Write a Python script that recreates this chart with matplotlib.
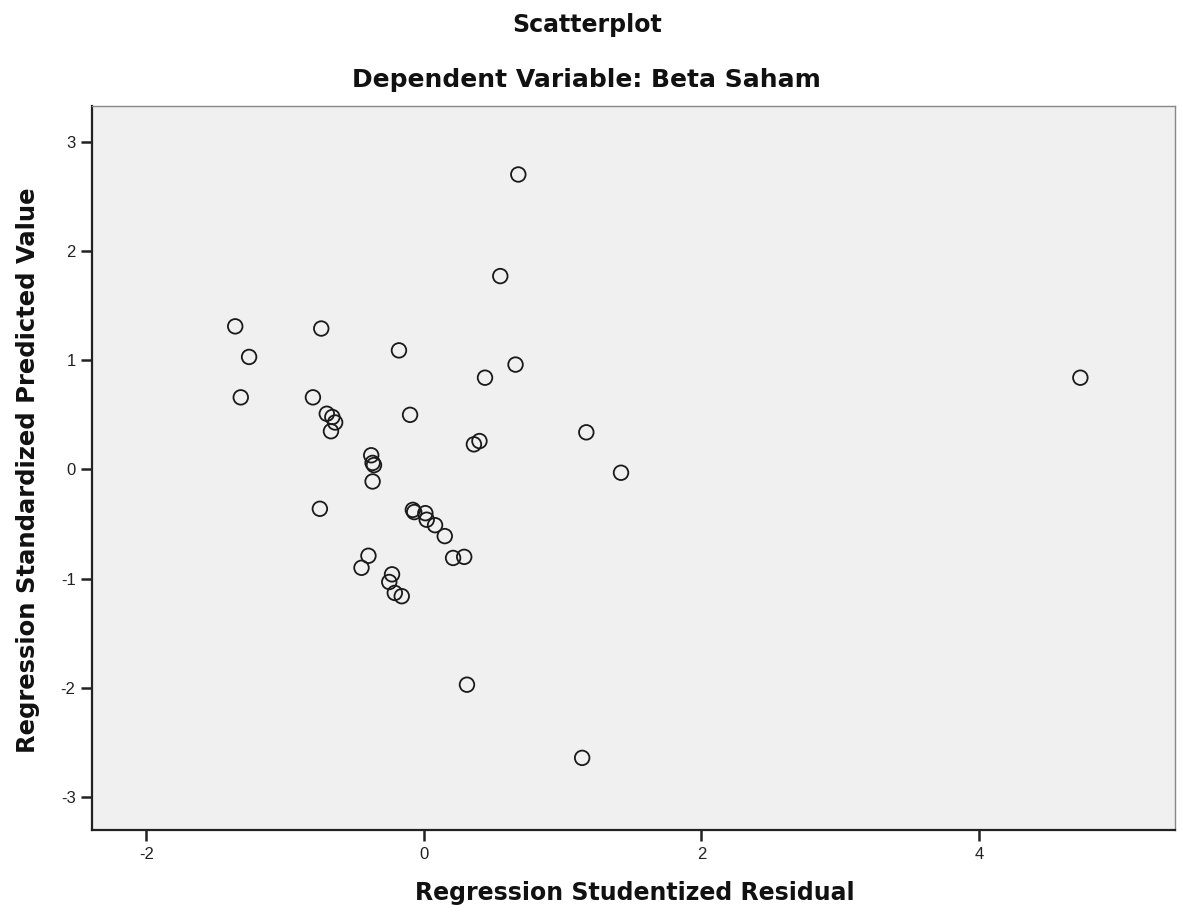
#!/usr/bin/env python3
# SPSS-style residual scatterplot: studentized residual vs standardized predicted value

import matplotlib
matplotlib.use("Agg")
import matplotlib.pyplot as plt

plt.rcParams["font.family"] = ["Liberation Sans", "DejaVu Sans"]

# Regression Studentized Residual (x)
resid = [0.68, 0.55, -1.36, -0.74, -1.26, -0.18, 0.66, 0.44, 4.73, -1.32,
         -0.80, -0.70, -0.66, -0.64, -0.67, -0.10, -0.38, -0.37, -0.36, -0.37,
         -0.75, -0.08, -0.07, 0.01, 0.02, 0.08, 0.15, 0.21, 0.29, -0.40,
         -0.45, -0.23, -0.25, -0.21, -0.16, 0.36, 0.40, 1.17, 1.42, 0.31,
         1.14]
# Regression Standardized Predicted Value (y)
pred = [2.70, 1.77, 1.31, 1.29, 1.03, 1.09, 0.96, 0.84, 0.84, 0.66,
        0.66, 0.51, 0.48, 0.43, 0.35, 0.50, 0.13, 0.06, 0.04, -0.11,
        -0.36, -0.37, -0.39, -0.40, -0.46, -0.51, -0.61, -0.81, -0.80, -0.79,
        -0.90, -0.96, -1.03, -1.13, -1.16, 0.23, 0.26, 0.34, -0.03, -1.97,
        -2.64]

xticks = [-2, 0, 2, 4]
yticks = [-3, -2, -1, 0, 1, 2, 3]

LABEL_FONT = dict(family="DejaVu Sans", fontweight="bold", color="#111111")


def main():
    fig = plt.figure(figsize=(11.83, 9.22), dpi=100)
    ax = fig.add_axes([0.078, 0.0998, 0.915, 0.7856])
    ax.set_facecolor("#f0f0f0")

    ax.scatter(resid, pred, s=110, facecolors="none", edgecolors="#1a1a1a",
               linewidths=1.3, zorder=3)

    ax.set_xlim(-2.39, 5.41)
    ax.set_ylim(-3.30, 3.33)
    ax.set_xticks(xticks)
    ax.set_xticklabels([str(t) for t in xticks])
    ax.set_yticks(yticks)
    ax.set_yticklabels([str(t) for t in yticks])
    ax.tick_params(direction="out", length=8, width=1.8, labelsize=12,
                   colors="#222222", pad=4)

    for s in ax.spines.values():
        s.set_linewidth(1.6)
        s.set_color("#222222")
    ax.spines["top"].set_color("#888888")
    ax.spines["right"].set_color("#888888")
    ax.spines["top"].set_linewidth(1.0)
    ax.spines["right"].set_linewidth(1.0)

    fig.text(0.537, 0.0315, "Regression Studentized Residual", ha="center",
             va="center", fontsize=17, **LABEL_FONT)
    fig.text(0.0235, 0.490, "Regression Standardized Predicted Value",
             ha="center", va="center", rotation=90, fontsize=17.5, **LABEL_FONT)

    fig.text(0.496, 0.973, "Scatterplot", ha="center", va="center",
             fontsize=17, **LABEL_FONT)
    fig.text(0.496, 0.913, "Dependent Variable: Beta Saham", ha="center",
             va="center", fontsize=18, **LABEL_FONT)

    fig.savefig("out.png", dpi=100)


if __name__ == "__main__":
    main()
